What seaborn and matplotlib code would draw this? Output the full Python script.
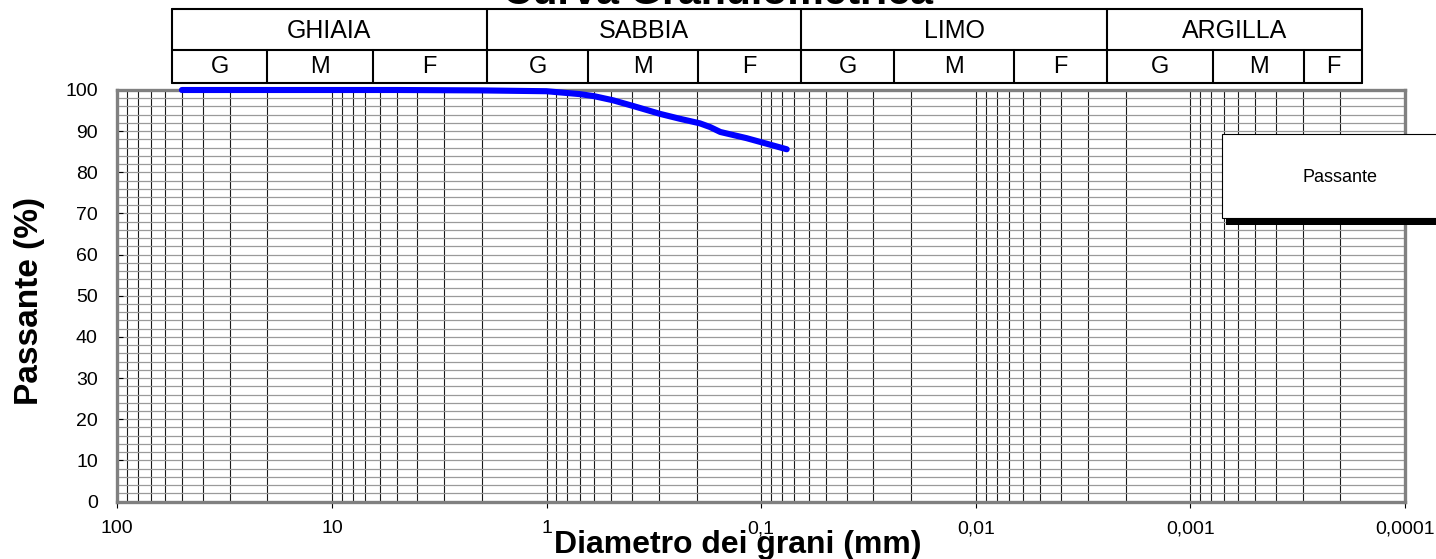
import numpy as np
import pandas as pd
import matplotlib
matplotlib.use("Agg")
import matplotlib.pyplot as plt
from matplotlib.patches import Rectangle
from matplotlib.ticker import FixedLocator, LogLocator, NullFormatter
import seaborn as sns

# ---------------- data ----------------
diam_mm = [50, 20, 10, 5, 2, 1.0, 0.7, 0.6, 0.49, 0.394, 0.296, 0.239, 0.193, 0.173, 0.155, 0.117, 0.076]
passante = [100, 100, 100, 100, 99.9, 99.7, 99.0, 98.5, 97.5, 96.1, 94.2, 93.0, 91.9, 91.0, 89.8, 88.3, 85.6]
series_name = "Passante"

x_ticks = [100, 10, 1, 0.1, 0.01, 0.001, 0.0001]
x_tick_labels = ["100", "10", "1", "0,1", "0,01", "0,001", "0,0001"]
y_ticks = [0, 10, 20, 30, 40, 50, 60, 70, 80, 90, 100]

title_text = "Curva Granulometrica"
x_label = "Diametro dei grani (mm)"
y_label = "Passante (%)"

groups = ["GHIAIA", "SABBIA", "LIMO", "ARGILLA"]
sub_labels = ["G", "M", "F"]

# ---------------- style ----------------
sns.set_style("white")
plt.rcParams["font.family"] = ["Liberation Sans", "DejaVu Sans"]
plt.rcParams["text.color"] = "black"
plt.rcParams["axes.labelcolor"] = "black"
plt.rcParams["xtick.color"] = "black"
plt.rcParams["ytick.color"] = "black"

W, H = 1436, 559
fig = plt.figure(figsize=(W / 100, H / 100), dpi=100)

left_px, right_px, top_px, bot_px = 117.3, 1405.0, 90.0, 501.5
ax = fig.add_axes([left_px / W, 1 - bot_px / H, (right_px - left_px) / W, (bot_px - top_px) / H])

df = pd.DataFrame({"Diametro": diam_mm, "Passante": passante})
sns.lineplot(data=df, x="Diametro", y="Passante", ax=ax, color="#0000FF",
             linewidth=4.4, sort=False, estimator=None, zorder=6,
             solid_capstyle="round", solid_joinstyle="round", clip_on=False)

ax.set_xscale("log")
ax.set_xlim(100, 0.0001)
ax.set_ylim(0, 100)

ax.xaxis.set_major_locator(FixedLocator(x_ticks))
ax.set_xticks(x_ticks)
ax.set_xticklabels(x_tick_labels)
ax.xaxis.set_minor_locator(LogLocator(base=10, subs=np.arange(2, 10), numticks=100))
ax.xaxis.set_minor_formatter(NullFormatter())
ax.set_yticks(y_ticks)
ax.set_yticks(np.arange(0, 101, 2), minor=True)

ax.grid(True, which="major", axis="x", color="#1a1a1a", linewidth=0.8)
ax.grid(True, which="minor", axis="x", color="#1a1a1a", linewidth=0.8)
ax.grid(True, which="both", axis="y", color="#9a9a9a", linewidth=0.9)
ax.set_axisbelow(True)

ax.tick_params(axis="x", which="major", direction="out", length=4.5, width=0.8,
               color="black", labelcolor="black", labelsize=14, pad=9)
ax.tick_params(axis="x", which="minor", length=0)
ax.tick_params(axis="y", which="major", direction="in", length=4.5, width=0.8,
               color="black", labelcolor="black", labelsize=14, pad=14)
ax.tick_params(axis="y", which="minor", length=0)
ax.tick_params(bottom=True, left=True)

for s in ax.spines.values():
    s.set_visible(True)
    s.set_color("#808080")
    s.set_linewidth(2.4)

ax.set_xlabel(x_label, fontsize=23, fontweight="bold", va="baseline", color="black")
ax.xaxis.set_label_coords((738 - left_px) / (right_px - left_px), (bot_px - 553) / (bot_px - top_px))
ax.set_ylabel(y_label, fontsize=24, fontweight="bold", va="center", ha="center", color="black")
ax.yaxis.set_label_coords((30 - left_px) / (right_px - left_px), (bot_px - 301) / (bot_px - top_px))

# ---------------- overlay (table, legend, title) in pixel coordinates ----------------
ov = fig.add_axes([0, 0, 1, 1], zorder=10)
ov.set_xlim(0, W)
ov.set_ylim(H, 0)
ov.axis("off")
ov.patch.set_alpha(0)

t_top, t_mid, t_bot = 9.3, 50.0, 82.7
group_edges = [171.7, 486.7, 801.3, 1106.7, 1362.3]
sub_edges = [
    [171.7, 267.3, 372.7, 486.7],
    [486.7, 588.3, 697.7, 801.3],
    [801.3, 894.0, 1014.3, 1106.7],
    [1106.7, 1213.3, 1304.0, 1362.3],
]
lw_t = 1.5
ov.plot([group_edges[0], group_edges[-1]], [t_top, t_top], color="black", lw=lw_t)
ov.plot([group_edges[0], group_edges[-1]], [t_mid, t_mid], color="black", lw=lw_t)
ov.plot([group_edges[0], group_edges[-1]], [t_bot, t_bot], color="black", lw=lw_t)
for xe in group_edges:
    ov.plot([xe, xe], [t_top, t_bot], color="black", lw=lw_t)
for gi, g in enumerate(groups):
    x0, x1 = group_edges[gi], group_edges[gi + 1]
    ov.text((x0 + x1) / 2, (t_top + t_mid) / 2 + 1, g, ha="center", va="center",
            fontsize=18, color="black")
    edges = sub_edges[gi]
    for xe in edges[1:-1]:
        ov.plot([xe, xe], [t_mid, t_bot], color="black", lw=lw_t)
    for si, s in enumerate(sub_labels):
        ov.text((edges[si] + edges[si + 1]) / 2, (t_mid + t_bot) / 2 + 1, s,
                ha="center", va="center", fontsize=17, color="black")

# legend box with shadow
ov.add_patch(Rectangle((1226, 141), 300, 84, facecolor="black", edgecolor="none", zorder=1))
ov.add_patch(Rectangle((1222, 134.3), 300, 84, facecolor="white", edgecolor="black", lw=0.8, zorder=2))
ov.text(1340, 177, series_name, ha="center", va="center", fontsize=13, zorder=3, color="black")

# title (partially cut at top, as in the reference)
ov.text(718, 3.5, title_text, ha="center", va="baseline", fontsize=29.5,
        fontweight="bold", color="black")

fig.savefig("out.png", dpi=100)
